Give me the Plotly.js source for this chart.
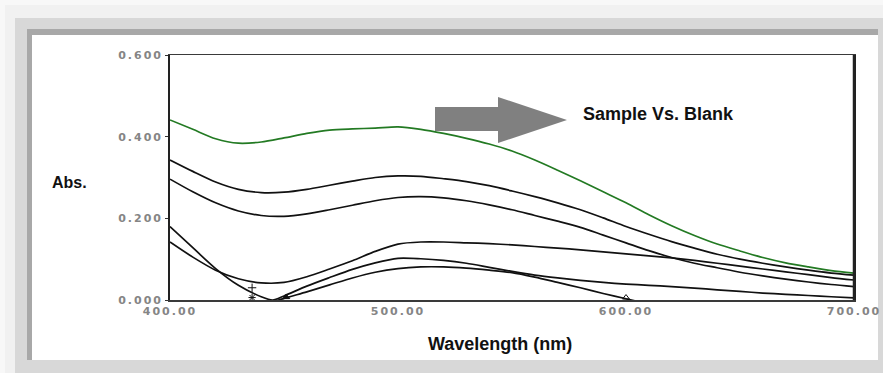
<!DOCTYPE html>
<html>
<head>
<meta charset="utf-8">
<script src="https://cdn.plot.ly/plotly-3.0.1.min.js"></script>
<style>
  html, body { margin:0; padding:0; }
  body { width:883px; height:373px; position:relative; overflow:hidden; background:#f8f8f8; font-family:"Liberation Sans", Arial, sans-serif; }
  .box { position:absolute; }
  #b1 { left:5px; top:5px; width:878px; height:368px; background:#f1f1f1; }
  #b2 { left:15px; top:18px; width:868px; height:355px; background:#d8d8d8; }
  #b3 { left:27px; top:29px; width:851px; height:331px; background:#a8a8a8; }
  #b4 { left:32px; top:35px; width:846px; height:325px; background:#ffffff; }
  #chart { position:absolute; left:0; top:0; width:883px; height:373px; }
  #chart .xtick text, #chart .ytick text { letter-spacing:2px; }
</style>
</head>
<body>
<div class="box" id="b1"></div>
<div class="box" id="b2"></div>
<div class="box" id="b3"></div>
<div class="box" id="b4"></div>
<div id="chart"></div>
<script>
// ---- data ----
const wavelength = [400,410,420,430,440,450,460,470,480,490,500,510,520,530,540,550,560,570,580,590,600,610,620,630,640,650,660,670,680,690,700];

const absSampleVsBlank = [0.441,0.418,0.395,0.384,0.387,0.397,0.408,0.416,0.419,0.421,0.424,0.418,0.408,0.396,0.382,0.365,0.343,0.318,0.292,0.265,0.238,0.209,0.182,0.158,0.137,0.120,0.104,0.091,0.081,0.072,0.066];

const absCurve1 = [0.343,0.315,0.289,0.271,0.263,0.264,0.271,0.281,0.291,0.300,0.304,0.303,0.297,0.290,0.280,0.267,0.253,0.238,0.221,0.201,0.180,0.161,0.143,0.127,0.112,0.100,0.090,0.081,0.073,0.066,0.061];

const absCurve2 = [0.296,0.265,0.238,0.218,0.207,0.205,0.211,0.221,0.232,0.243,0.251,0.253,0.250,0.243,0.233,0.221,0.207,0.193,0.178,0.159,0.140,0.121,0.104,0.090,0.079,0.068,0.059,0.051,0.044,0.038,0.033];

const absCurve3 = [0.142,0.105,0.073,0.052,0.042,0.043,0.057,0.076,0.096,0.119,0.137,0.142,0.142,0.140,0.138,0.135,0.131,0.127,0.123,0.118,0.113,0.108,0.103,0.097,0.090,0.083,0.076,0.069,0.062,0.055,0.049];

const wavelengthCurve4 = [400,410,420,430,440,445,450,460,470,480,490,500,510,520,530,540,550,560,570,580,590,600,610,620,630,640,650,660,670,680,690,700];
const absCurve4 = [0.180,0.128,0.077,0.036,0.008,0.000,0.010,0.034,0.055,0.075,0.091,0.102,0.101,0.097,0.090,0.080,0.070,0.061,0.054,0.048,0.043,0.039,0.036,0.033,0.029,0.025,0.021,0.017,0.014,0.011,0.008,0.005];

const wavelengthCurve5 = [440,450,460,470,480,490,500,510,520,530,540,550,560,570,580,590,600,610];
const absCurve5 = [-0.014,0.004,0.020,0.037,0.054,0.068,0.077,0.081,0.081,0.078,0.073,0.067,0.056,0.043,0.030,0.016,0.003,-0.010];

const markWavelength = [436,436,451,600];
const markAbs = [0.030,0.006,0.007,0.006];
const markSymbols = ['cross-thin','asterisk','triangle-up','triangle-up-open'];

const xTickVals = [400,500,600,700];
const xTickText = ['400.00','500.00','600.00','700.00'];
const yTickVals = [0,0.2,0.4,0.6];
const yTickText = ['0.000','0.200','0.400','0.600'];

const xTitle = 'Wavelength (nm)';
const yTitle = 'Abs.';
const noteText = 'Sample Vs. Blank';

// ---- geometry helpers (plot area in pixels) ----
const L = 170, R = 854, T = 55, B = 300;
const px = p => (p - L) / (R - L);
const py = p => (B - p) / (B - T);

const blackLine = {color:'#111111', width:1.7, shape:'spline', smoothing:0.8};

const traces = [
  {x:wavelength, y:absCurve1, mode:'lines', line:blackLine, hoverinfo:'skip'},
  {x:wavelength, y:absCurve2, mode:'lines', line:blackLine, hoverinfo:'skip'},
  {x:wavelength, y:absCurve3, mode:'lines', line:blackLine, hoverinfo:'skip'},
  {x:wavelengthCurve4, y:absCurve4, mode:'lines', line:blackLine, hoverinfo:'skip'},
  {x:wavelengthCurve5, y:absCurve5, mode:'lines', line:blackLine, hoverinfo:'skip'},
  {x:wavelength, y:absSampleVsBlank, mode:'lines', line:{color:'#237a23', width:1.7, shape:'spline', smoothing:0.8}, hoverinfo:'skip'},
  {x:markWavelength, y:markAbs, mode:'markers', cliponaxis:false,
   marker:{symbol:markSymbols, size:6, color:'#111111', line:{color:'#111111', width:1}}, hoverinfo:'skip'}
];

const tickFont = {family:'DejaVu Sans, Verdana, sans-serif', size:11, color:'#858585', weight:'bold'};
const labelFont = {family:'Liberation Sans, Arial, sans-serif', size:18, color:'#111111', weight:'bold'};

const arrowPath = 'M ' + px(435) + ' ' + py(107) +
  ' L ' + px(498) + ' ' + py(107) +
  ' L ' + px(498) + ' ' + py(97) +
  ' L ' + px(567) + ' ' + py(120) +
  ' L ' + px(498) + ' ' + py(143) +
  ' L ' + px(498) + ' ' + py(131) +
  ' L ' + px(435) + ' ' + py(131) + ' Z';

const layout = {
  width:883, height:373,
  margin:{l:L, r:883-R, t:T, b:373-B, pad:0},
  paper_bgcolor:'rgba(0,0,0,0)',
  plot_bgcolor:'#ffffff',
  showlegend:false,
  xaxis:{
    range:[400,700], tickmode:'array', tickvals:xTickVals, ticktext:xTickText,
    showgrid:false, zeroline:false, showline:true, linecolor:'#3a3a3a', linewidth:1.5, mirror:true,
    ticks:'', tickfont:tickFont, fixedrange:true
  },
  yaxis:{
    range:[0,0.6], tickmode:'array', tickvals:yTickVals, ticktext:yTickText,
    showgrid:false, zeroline:false, showline:true, linecolor:'#222222', linewidth:1.8, mirror:true,
    ticks:'outside', ticklen:3, tickwidth:1, tickcolor:'#333333', tickfont:tickFont, fixedrange:true
  },
  shapes:[
    {type:'line', xref:'paper', yref:'paper', x0:1, x1:1, y0:0, y1:1, line:{color:'#222222', width:2.5}, layer:'above'},
    {type:'path', xref:'paper', yref:'paper', path:arrowPath, fillcolor:'#808080', line:{width:0}, layer:'above'}
  ],
  annotations:[
    {xref:'paper', yref:'paper', x:px(581), y:py(114), xanchor:'left', yanchor:'middle', text:noteText, showarrow:false, font:labelFont},
    {xref:'paper', yref:'paper', x:px(50), y:py(182), xanchor:'left', yanchor:'middle', text:yTitle, showarrow:false, font:Object.assign({}, labelFont, {size:16})},
    {xref:'paper', yref:'paper', x:px(426), y:py(344), xanchor:'left', yanchor:'middle', text:xTitle, showarrow:false, font:labelFont}
  ]
};

Plotly.newPlot('chart', traces, layout, {staticPlot:true, displayModeBar:false});
</script>
</body>
</html>
